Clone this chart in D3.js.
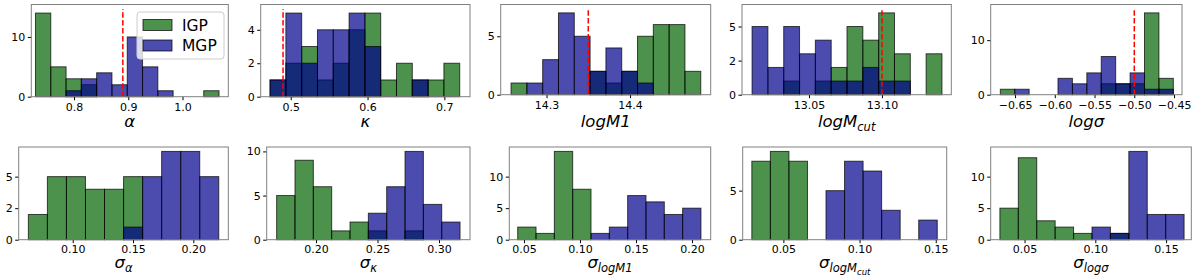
<!DOCTYPE html>
<html>
<head>
<meta charset="utf-8">
<script src="https://cdn.jsdelivr.net/npm/d3@7"></script>
<style>
  body { margin: 0; background: #fff; }
  svg { display: block; font-family: "DejaVu Sans", sans-serif; }
</style>
</head>
<body>
<svg id="chart" width="1200" height="275"></svg>
<script>
// one entry per panel: top row (alpha, kappa, logM1, logMcut, logsigma), then the sigma_* row
var binLo = [0.729, 0.4731, 14.2575, 13.011, -0.6685, 0.0632, 0.168, 0.0444, 0.0293, 0.0326];
var binHi = [1.0673, 0.7200, 14.4847, 13.1411, -0.4509, 0.2211, 0.3171, 0.208, 0.151, 0.1627];

var igpCounts = [
	[14, 5, 3, 2, 0, 0, 0, 0, 0, 0, 0, 1],
	[1, 2, 3, 1, 2, 4, 5, 1, 2, 1, 1, 2],
	[1, 0, 0, 0, 0, 2, 1, 2, 5, 6, 6, 2],
	[0, 0, 1, 0, 1, 2, 5, 4, 6, 3, 0, 3],
	[1, 0, 0, 0, 0, 0, 0, 2, 2, 2, 15, 3],
	[2, 5, 5, 4, 4, 5, 0, 0, 0, 0],
	[5, 9, 6, 1, 2, 1, 0, 1, 0, 0],
	[2, 1, 14, 8, 0, 0, 0, 0, 0, 0],
	[8, 9, 8, 0, 0, 0, 0, 0, 0, 0],
	[5, 13, 3, 2, 1, 0, 1, 0, 0, 0]
];
var mgpCounts = [
	[0, 0, 1, 3, 4, 2, 10, 5, 1, 0, 0, 0],
	[1, 5, 2, 4, 4, 5, 3, 0, 0, 1, 0, 0],
	[0, 1, 3, 7, 5, 2, 4, 2, 1, 0, 0, 0],
	[5, 2, 5, 3, 4, 1, 1, 2, 1, 1, 0, 0],
	[0, 1, 0, 0, 3, 2, 4, 7, 2, 4, 1, 1],
	[0, 0, 0, 0, 0, 1, 5, 7, 7, 5],
	[0, 0, 0, 0, 0, 3, 6, 10, 4, 2],
	[0, 0, 0, 0, 1, 2, 7, 6, 4, 5],
	[0, 0, 0, 0, 5, 8, 7, 3, 0, 2],
	[0, 0, 0, 0, 0, 2, 1, 14, 4, 4]
];
var trueValues = [0.89, 0.49, 14.35, 13.10, -0.50, null, null, null, null, null];

var xLims = [
	[0.7213, 1.0844], [0.4609, 0.7334], [14.2451, 14.4966], [13.0041, 13.1475], [-0.6806, -0.44],
	[0.0552, 0.229], [0.1599, 0.3252], [0.0369, 0.2167], [0.0233, 0.1572], [0.0261, 0.1678]
];
var xTicks = [
	[0.8, 0.9, 1.0], [0.5, 0.6, 0.7], [14.3, 14.4], [13.05, 13.10], [-0.65, -0.60, -0.55, -0.50, -0.45],
	[0.10, 0.15, 0.20], [0.20, 0.25, 0.30], [0.05, 0.10, 0.15, 0.20], [0.05, 0.10, 0.15], [0.05, 0.10, 0.15]
];
var xTickDigits = [1, 1, 1, 2, 2, 2, 2, 2, 2, 2];
var yTicks = [
	[0, 10], [0, 2, 4], [0, 5], [0, 2.5, 5], [0, 10],
	[0, 2.5, 5], [0, 5, 10], [0, 5, 10], [0, 5], [0, 5, 10]
];
// label pieces: [text, subscript level]
var xLabels = [
	[['α', 0]], [['κ', 0]], [['logM1', 0]], [['logM', 0], ['cut', 1]], [['logσ', 0]],
	[['σ', 0], ['α', 1]], [['σ', 0], ['κ', 1]], [['σ', 0], ['logM1', 1]],
	[['σ', 0], ['logM', 1], ['cut', 2]], [['σ', 0], ['logσ', 1]]
];
var seriesNames = ['IGP', 'MGP'];

// layout
var colors = ['darkgreen', 'darkblue'];
var boxes = [
	[31.3, 4.5, 228.3, 96.7],
	[260.7, 4.5, 470, 96.7],
	[500.7, 4.5, 710.7, 94.7],
	[742, 4.5, 951.3, 94.7],
	[990.7, 4.5, 1182, 94.7],
	[18.7, 147, 228.3, 239.7],
	[266.7, 147, 470, 239.7],
	[509.3, 147, 710.7, 239.7],
	[742.7, 147, 946.7, 239.7],
	[990.7, 147, 1191.3, 239.7]
];
var labelBase = [126.5, 267.5];
var tickPad = [2.7, 2];
var subSize = [16.5, 11.5, 8.5];
var subDrop = [0, 4, 7];

var svg = d3.select('#chart');

boxes.forEach(function(b, i) {
	var g = svg.append('g');
	var row = i < 5 ? 0 : 1;
	var series = [igpCounts[i], mgpCounts[i]];
	var n = series[0].length;
	var ymax = d3.max(series, function(s) { return d3.max(s); });
	var hasLine = trueValues[i] !== null;
	var top = hasLine ? ymax * 1.05 * 1.05 : ymax * 1.05;

	var x = d3.scaleLinear().domain(xLims[i]).range([b[0], b[2]]);
	var y = d3.scaleLinear().domain([0, top]).range([b[3], b[1]]);
	var step = (binHi[i] - binLo[i]) / n;

	series.forEach(function(counts, k) {
		var bins = counts.map(function(c, j) {
			return { x0: binLo[i] + j * step, x1: binLo[i] + (j + 1) * step, c: c };
		}).filter(function(d) { return d.c > 0; });

		g.append('g').selectAll('rect')
			.data(bins)
			.enter()
			.append('rect')
			.attr('x', function(d) { return x(d.x0); })
			.attr('y', function(d) { return y(d.c); })
			.attr('width', function(d) { return x(d.x1) - x(d.x0); })
			.attr('height', function(d) { return y(0) - y(d.c); })
			.attr('fill', colors[k])
			.attr('fill-opacity', 0.7)
			.attr('stroke', '#000')
			.attr('stroke-opacity', 0.7)
			.attr('stroke-width', 1);
	});

	if (hasLine) {
		g.append('line')
			.attr('x1', x(trueValues[i])).attr('x2', x(trueValues[i]))
			.attr('y1', y(0)).attr('y2', y(ymax * 1.05))
			.attr('stroke', 'red')
			.attr('stroke-width', 1.5)
			.attr('stroke-dasharray', '5.5,2.4');
	}

	var fmt = d3.format('.' + xTickDigits[i] + 'f');
	var xAxis = g.append('g')
		.attr('transform', 'translate(0,' + b[3] + ')')
		.call(d3.axisBottom(x).tickValues(xTicks[i]).tickFormat(fmt).tickSize(3.5).tickPadding(tickPad[row]));
	var yAxis = g.append('g')
		.attr('transform', 'translate(' + b[0] + ',0)')
		.call(d3.axisLeft(y).tickValues(yTicks[i]).tickFormat(function(v) { return String(Math.trunc(v)); }).tickSize(3.5).tickPadding(2.5));
	[xAxis, yAxis].forEach(function(a) {
		a.select('.domain').remove();
		a.attr('font-family', null).attr('font-size', null);
		a.selectAll('text').style('font-size', '11px').attr('fill', '#000');
		a.selectAll('line').attr('stroke', '#000');
	});

	g.append('rect')
		.attr('x', b[0]).attr('y', b[1])
		.attr('width', b[2] - b[0]).attr('height', b[3] - b[1])
		.attr('fill', 'none')
		.attr('stroke', '#808080')
		.attr('stroke-width', 1);

	var label = g.append('text')
		.attr('x', (b[0] + b[2]) / 2)
		.attr('y', labelBase[row])
		.attr('text-anchor', 'middle')
		.style('font-style', 'italic');
	var prev = 0;
	xLabels[i].forEach(function(p) {
		label.append('tspan')
			.attr('dy', subDrop[p[1]] - subDrop[prev])
			.style('font-size', subSize[p[1]] + 'px')
			.text(p[0]);
		prev = p[1];
	});
});

// legend, only in the first panel
var leg = svg.append('g').attr('transform', 'translate(137,12)');
leg.append('rect')
	.attr('width', 87).attr('height', 47).attr('rx', 3)
	.attr('fill', '#fff').attr('fill-opacity', 0.8)
	.attr('stroke', '#ccc');
seriesNames.forEach(function(name, k) {
	leg.append('rect')
		.attr('x', 6).attr('y', 7.5 + k * 20.5)
		.attr('width', 29).attr('height', 11)
		.attr('fill', colors[k]).attr('fill-opacity', 0.7)
		.attr('stroke', '#000').attr('stroke-opacity', 0.7);
	leg.append('text')
		.attr('x', 45).attr('y', 18.7 + k * 20.3)
		.style('font-size', '15.5px')
		.text(name);
});
</script>
</body>
</html>
